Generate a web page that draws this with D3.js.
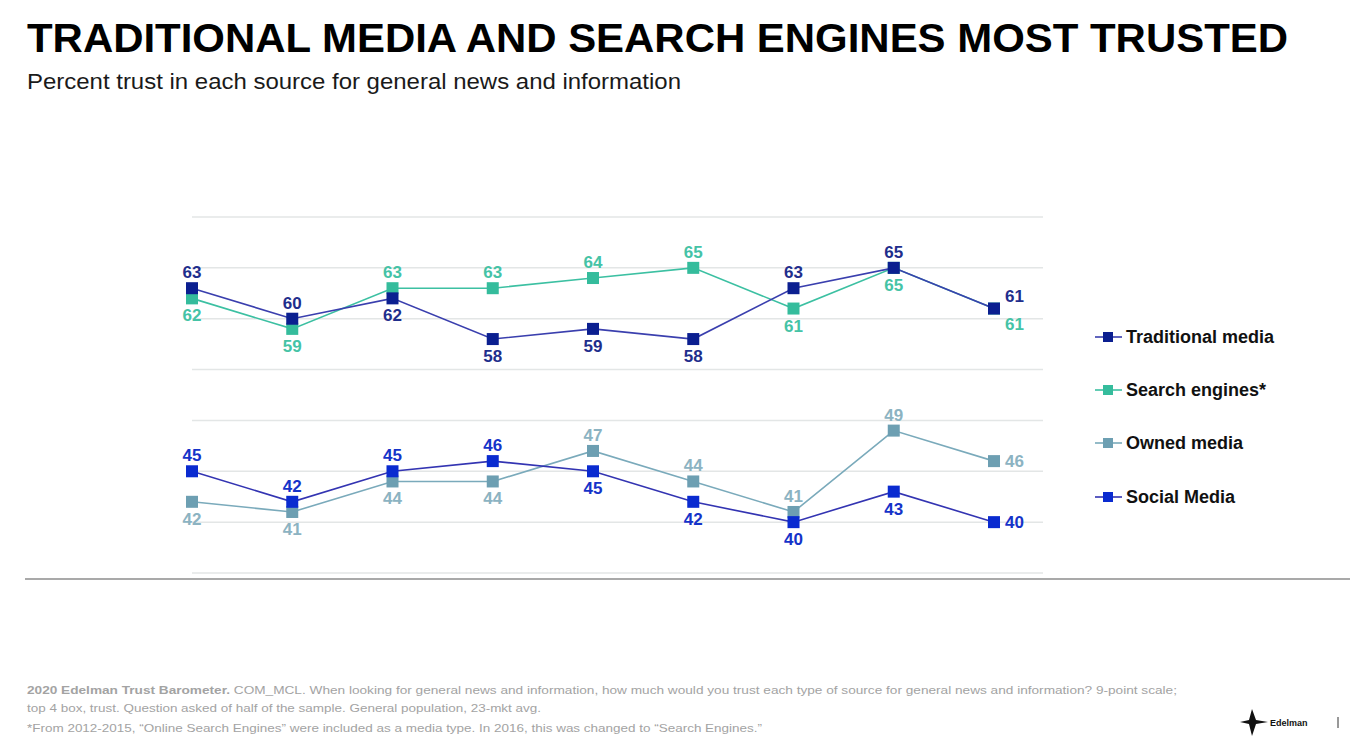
<!DOCTYPE html>
<html><head><meta charset="utf-8">
<script src="https://cdn.jsdelivr.net/npm/d3@7"></script>
<style>body{margin:0;background:#fff;}svg{display:block;font-family:"Liberation Sans",Arial,sans-serif;}</style>
</head><body>
<svg id="c" width="1354" height="743"></svg>
<script>
const years = [2012,2013,2014,2015,2016,2017,2018,2019,2020];
const traditional = [63,60,62,58,59,58,63,65,61];
const search = [62,59,63,63,64,65,61,65,61];
const owned = [42,41,44,44,47,44,41,49,46];
const social = [45,42,45,46,45,42,40,43,40];
const seriesNames = ["Traditional media","Search engines*","Owned media","Social Media"];
// label placement per point: a = above, b = below, ra = right-above, rb = right-below, r = right
const tradPos = ["a","a","b","b","b","b","a","a","ra"];
const searchPos = ["b","b","a","a","a","a","b","b","rb"];
const ownedPos = ["b","b","b","b","a","a","a","a","r"];
const socialPos = ["a","a","a","a","b","b","b","b","r"];
const yTicks = [35,40,45,50,55,60,65,70];

const svg = d3.select("#c");
const x = d3.scaleLinear().domain([0, years.length-1]).range([192, 994]);
const y = d3.scaleLinear().domain([35,70]).range([573, 217]);

// title
svg.append("text").attr("x",27).attr("y",52).attr("font-size",41).attr("font-weight","bold")
  .attr("fill","#000").attr("textLength",1261).attr("lengthAdjust","spacingAndGlyphs")
  .text("TRADITIONAL MEDIA AND SEARCH ENGINES MOST TRUSTED");
svg.append("text").attr("x",27).attr("y",89).attr("font-size",22.5).attr("fill","#1a1a1a")
  .attr("textLength",654).attr("lengthAdjust","spacingAndGlyphs")
  .text("Percent trust in each source for general news and information");

// gridlines
svg.append("g").selectAll("line").data(yTicks).join("line")
  .attr("x1",192).attr("x2",1043).attr("y1",d=>y(d)).attr("y2",d=>y(d))
  .attr("stroke","#e3e6e6").attr("stroke-width",1.5);

// bottom rule
svg.append("line").attr("x1",25).attr("x2",1350).attr("y1",579).attr("y2",579)
  .attr("stroke","#8c8c8c").attr("stroke-width",1.5);

const series = [
  {name:seriesNames[0], vals:traditional, pos:tradPos, line:"#3a3fae", mark:"#0b1f90", label:"#1f2e8c"},
  {name:seriesNames[1], vals:search, pos:searchPos, line:"#3cc0a2", mark:"#35bc9c", label:"#45c3a6"},
  {name:seriesNames[2], vals:owned, pos:ownedPos, line:"#7aaabb", mark:"#6d9fb2", label:"#8cb3c2"},
  {name:seriesNames[3], vals:social, pos:socialPos, line:"#3334b2", mark:"#0a2bd0", label:"#1533c9"}
];
// draw order: owned, social, search, traditional
const order = [2,3,1,0];
const line = d3.line().x((d,i)=>x(i)).y(d=>y(d));
order.forEach(k=>{
  const s = series[k];
  const g = svg.append("g");
  g.append("path").attr("d",line(s.vals)).attr("fill","none").attr("stroke",s.line).attr("stroke-width",1.6);
  g.selectAll("rect").data(s.vals).join("rect")
    .attr("x",(d,i)=>x(i)-6).attr("y",d=>y(d)-6).attr("width",12).attr("height",12).attr("fill",s.mark);
});
order.forEach(k=>{
  const s = series[k];
  svg.append("g").selectAll("text").data(s.vals).join("text")
    .attr("font-size",17).attr("font-weight","bold").attr("fill",s.label)
    .attr("text-anchor",(d,i)=>s.pos[i].startsWith("r")?"start":"middle")
    .attr("x",(d,i)=>s.pos[i].startsWith("r")?x(i)+11:x(i))
    .attr("y",(d,i)=>{
      const p=s.pos[i], yy=y(d);
      if(p==="a") return yy-10;
      if(p==="b") return yy+23;
      if(p==="ra") return yy-7;
      if(p==="rb") return yy+21;
      return yy+6;
    })
    .text(d=>d);
});

// legend
const legY = [337,390,443,497];
series.forEach((s,i)=>{
  const g = svg.append("g").attr("transform",`translate(0,${legY[i]})`);
  g.append("line").attr("x1",1095).attr("x2",1122).attr("y1",0).attr("y2",0).attr("stroke",s.line).attr("stroke-width",1.6);
  g.append("rect").attr("x",1103).attr("y",-5).attr("width",10).attr("height",10).attr("fill",s.mark);
  g.append("text").attr("x",1126).attr("y",6).attr("font-size",18).attr("font-weight","bold").attr("fill","#111").text(s.name);
});

// footnotes
const fn = svg.append("g").attr("font-size",11.5).attr("fill","#a3a3a3");
const t1 = fn.append("text").attr("x",27).attr("y",694).attr("textLength",1150).attr("lengthAdjust","spacingAndGlyphs");
t1.append("tspan").attr("font-weight","bold").text("2020 Edelman Trust Barometer.");
t1.append("tspan").text(" COM_MCL. When looking for general news and information, how much would you trust each type of source for general news and information? 9-point scale;");
fn.append("text").attr("x",27).attr("y",712).attr("textLength",514).attr("lengthAdjust","spacingAndGlyphs")
  .text("top 4 box, trust. Question asked of half of the sample. General population, 23-mkt avg.");
fn.append("text").attr("x",27).attr("y",732).attr("textLength",735).attr("lengthAdjust","spacingAndGlyphs")
  .text("*From 2012-2015, \u201COnline Search Engines\u201D were included as a media type. In 2016, this was changed to \u201CSearch Engines.\u201D");

// logo
const lg = svg.append("g");
lg.append("path").attr("d","M1252,709 L1256,720 L1268,722 L1256,724 L1252,736 L1249,724 L1240,722 L1249,720 Z").attr("fill","#111");
lg.append("text").attr("x",1270).attr("y",726).attr("font-size",9).attr("font-weight","bold").attr("fill","#111").text("Edelman");
lg.append("line").attr("x1",1338).attr("x2",1338).attr("y1",717).attr("y2",728).attr("stroke","#333").attr("stroke-width",1);
</script>
</body></html>
